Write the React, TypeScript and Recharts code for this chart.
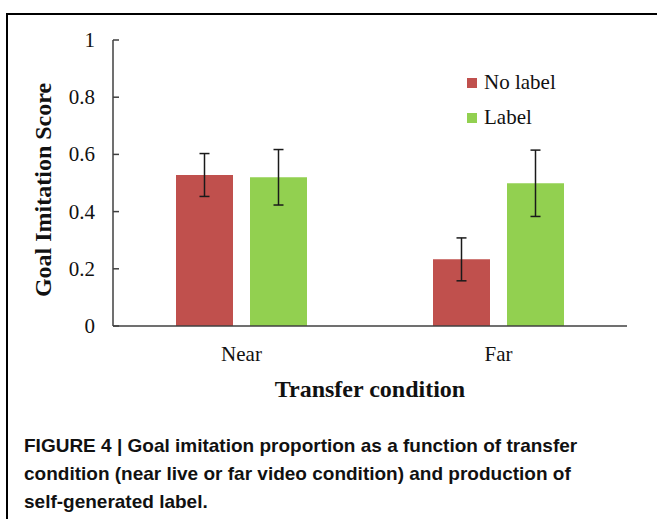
import { Bar, BarChart, ErrorBar, Label, XAxis, YAxis } from "recharts";

const categories = ["Near", "Far"];
const noLabelScores = [0.528, 0.233];
const noLabelErrors = [0.075, 0.075];
const labelScores = [0.52, 0.499];
const labelErrors = [0.097, 0.116];
const yTicks = [0, 0.2, 0.4, 0.6, 0.8, 1];
const seriesNames = ["No label", "Label"];

const RED = "#C0504D";
const GREEN = "#92D050";
const SERIF = "Liberation Serif";
const AXIS = "#404040";

const data = categories.map((name, i) => ({
  name,
  noLabel: noLabelScores[i],
  noLabelErr: noLabelErrors[i],
  label: labelScores[i],
  labelErr: labelErrors[i],
}));

function YTick(props: any) {
  const { x, y, payload } = props;
  return (
    <g>
      <line x1={x} x2={x + 6} y1={y} y2={y} stroke={AXIS} strokeWidth={1.5} />
      <text
        x={x - 18}
        y={y}
        textAnchor="end"
        dominantBaseline="central"
        fontFamily={SERIF}
        fontSize={21}
        fill="#111"
      >
        {payload.value}
      </text>
    </g>
  );
}

export default function App() {
  const colors = [RED, GREEN];
  return (
    <div
      style={{
        position: "absolute",
        left: 0,
        top: 0,
        width: 657,
        height: 519,
        overflow: "hidden",
        background: "#fff",
        fontFamily: SERIF,
      }}
    >
      <div
        style={{
          position: "absolute",
          left: 6,
          top: 13,
          width: 700,
          height: 600,
          borderTop: "2px solid #000",
          borderLeft: "2px solid #000",
        }}
      />
      <div style={{ position: "absolute", left: 0, top: 0 }}>
        <BarChart
          width={657}
          height={519}
          data={data}
          margin={{ top: 40, right: 30, left: 53, bottom: 163 }}
          barSize={57}
          barGap={17}
        >
          <XAxis
            dataKey="name"
            height={30}
            tickLine={false}
            tickSize={0}
            tickMargin={20}
            axisLine={{ stroke: AXIS, strokeWidth: 1.5 }}
            tick={{ fontFamily: SERIF, fontSize: 21, fill: "#111" }}
          >
            <Label
              content={(p: any) => {
                const vb = p.viewBox;
                return (
                  <text
                    x={vb.x + vb.width / 2}
                    y={vb.y + 63}
                    textAnchor="middle"
                    dominantBaseline="central"
                    fontFamily={SERIF}
                    fontSize={24}
                    fontWeight="bold"
                    fill="#111"
                  >
                    Transfer condition
                  </text>
                );
              }}
            />
          </XAxis>
          <YAxis
            width={60}
            domain={[0, 1]}
            ticks={yTicks}
            interval={0}
            tickLine={false}
            tickSize={0}
            tickMargin={0}
            axisLine={{ stroke: AXIS, strokeWidth: 1.5 }}
            tick={<YTick />}
          >
            <Label
              content={(p: any) => {
                const vb = p.viewBox;
                const cx = vb.x - 10;
                const cy = vb.y + vb.height / 2 + 7;
                return (
                  <text
                    x={cx}
                    y={cy}
                    transform={`rotate(-90, ${cx}, ${cy})`}
                    textAnchor="middle"
                    dominantBaseline="central"
                    fontFamily={SERIF}
                    fontSize={24}
                    fontWeight="bold"
                    fill="#111"
                  >
                    Goal Imitation Score
                  </text>
                );
              }}
            />
          </YAxis>
          <Bar dataKey="noLabel" name={seriesNames[0]} fill={RED} isAnimationActive={false}>
            <ErrorBar dataKey="noLabelErr" width={5} stroke="#1a1a1a" strokeWidth={1.5} direction="y" />
          </Bar>
          <Bar dataKey="label" name={seriesNames[1]} fill={GREEN} isAnimationActive={false}>
            <ErrorBar dataKey="labelErr" width={5} stroke="#1a1a1a" strokeWidth={1.5} direction="y" />
          </Bar>
        </BarChart>
      </div>
      {/* legend */}
      <div
        style={{
          position: "absolute",
          left: 467,
          top: 65,
          fontFamily: SERIF,
          fontSize: 21,
          color: "#111",
        }}
      >
        {seriesNames.map((n, i) => (
          <div key={n} style={{ display: "flex", alignItems: "center", height: 35 }}>
            <span style={{ width: 10, height: 10, background: colors[i], marginRight: 7 }} />
            <span style={{ fontFamily: SERIF }}>{n}</span>
          </div>
        ))}
      </div>
      <div
        style={{
          position: "absolute",
          left: 24,
          top: 432,
          fontFamily: "Liberation Sans",
          fontWeight: "bold",
          fontSize: 19,
          lineHeight: "28px",
          color: "#111",
          whiteSpace: "nowrap",
        }}
      >
        FIGURE 4 | Goal imitation proportion as a function of transfer
        <br />
        condition (near live or far video condition) and production of
        <br />
        self-generated label.
      </div>
    </div>
  );
}
